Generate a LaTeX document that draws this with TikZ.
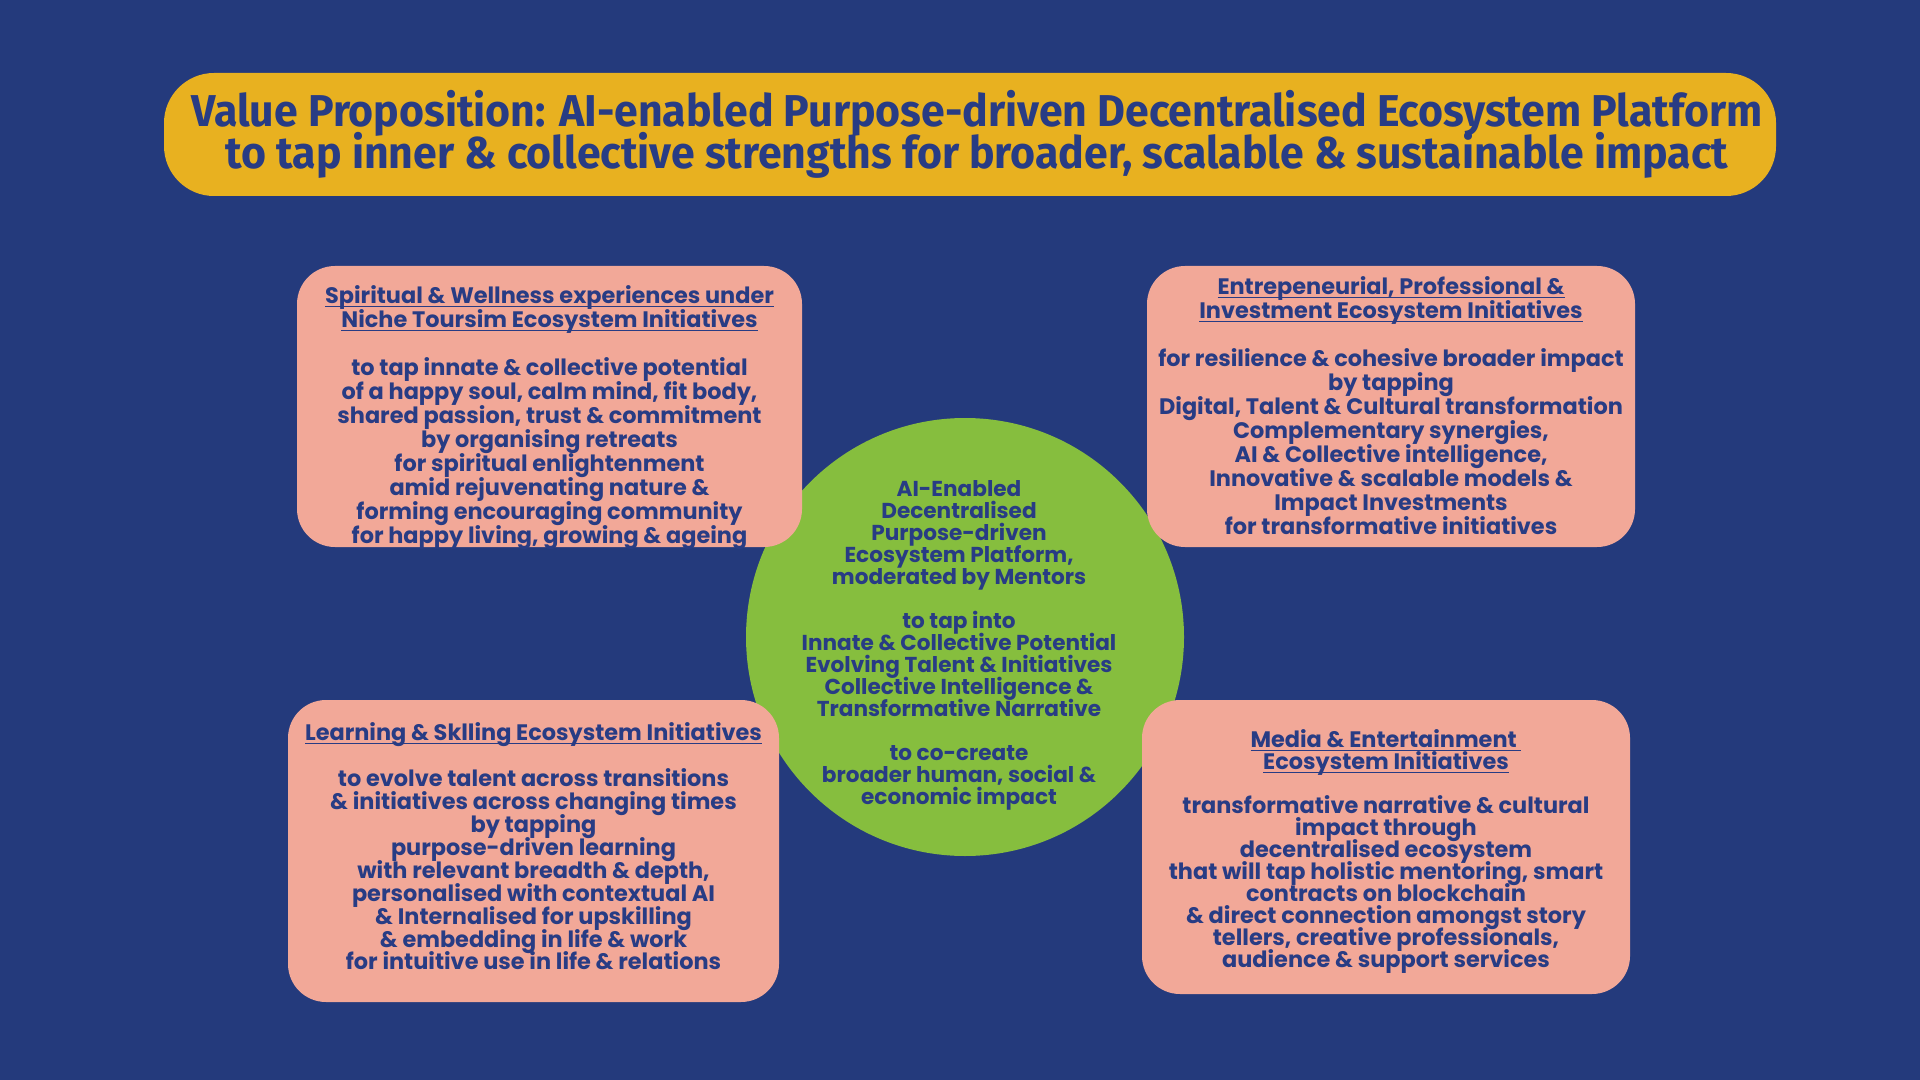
\documentclass[tikz,border=0pt]{standalone}
\usepackage{fontspec}
\newfontfamily\bodyfont{Poppins}
\newfontfamily\titlefont{Fira Sans}[FakeStretch=0.96]
\definecolor{bgblue}{RGB}{36,58,124}
\definecolor{txtblue}{RGB}{40,60,132}
\definecolor{salmon}{RGB}{242,168,152}
\definecolor{hubgreen}{RGB}{134,190,62}
\definecolor{gold}{RGB}{232,177,32}
\newcommand{\skipline}{\\[\baselineskip]}
\newcommand{\heading}[1]{\leavevmode\setbox0\hbox{#1}\rlap{\vrule height -0.8pt depth 1.65pt width \wd0}\box0}
\lineskiplimit=-\maxdimen

\begin{document}
\begin{tikzpicture}[x=0.5pt, y=-0.5pt,
    panel/.style={fill=salmon, rounded corners=19pt, inner sep=0pt},
    paneltext/.style={text=txtblue, align=center, inner sep=0pt,
        font=\bodyfont\bfseries\fontsize{11.2}{12}\selectfont},
    hub/.style={circle, fill=hubgreen, inner sep=0pt, minimum size=219pt}]
\useasboundingbox (0,0) rectangle (1920,1080);
\fill[bgblue] (0,0) rectangle (1920,1080);

% title banner
\node[fill=gold, rounded corners=25pt, minimum width=806pt, minimum height=61.5pt] (banner) at (970,134.5) {};
\node[text=txtblue, align=center, inner sep=0pt,
    font=\titlefont\bfseries\fontsize{22.3}{21}\selectfont] (title) at (977,134)
    {Value Proposition: AI-enabled Purpose-driven Decentralised Ecosystem Platform\\
     to tap inner \& collective strengths for broader, scalable \& sustainable impact};

% central platform circle
\node[hub] (hub) at (965,637) {};
\node[paneltext, font=\bodyfont\bfseries\fontsize{10.8}{11}\selectfont] (hubtext) at (959,645)
    {AI-Enabled\\ Decentralised\\ Purpose-driven\\ Ecosystem Platform,\\ moderated by Mentors\skipline
     to tap into\\ Innate \& Collective Potential\\ Evolving Talent \& Initiatives\\
     Collective Intelligence \&\\ Transformative Narrative\skipline
     to co-create\\ broader human, social \&\\ economic impact};

% four ecosystem panels
\node[panel, minimum width=252.5pt, minimum height=140.5pt] (spirit) at (549.5,406.5) {};
\node[panel, minimum width=244pt, minimum height=140.5pt] (invest) at (1391,406.5) {};
\node[panel, minimum width=245.5pt, minimum height=151pt] (learn) at (533.5,851) {};
\node[panel, minimum width=244pt, minimum height=147pt] (media) at (1386,847) {};

\node[paneltext, anchor=north, yshift=-10pt] (spirittext) at (spirit.north)
    {\heading{Spiritual \& Wellness experiences under}\\
     \heading{Niche Toursim Ecosystem Initiatives}\skipline
     to tap innate \& collective potential\\ of a happy soul, calm mind, fit body,\\
     shared passion, trust \& commitment\\ by organising retreats\\
     for spiritual enlightenment\\ amid rejuvenating nature \&\\
     forming encouraging community\\ for happy living, growing \& ageing};

\node[paneltext, anchor=north, yshift=-5.5pt] (investtext) at (invest.north)
    {\heading{Entrepeneurial, Professional \&}\\
     \heading{Investment Ecosystem Initiatives}\skipline
     for resilience \& cohesive broader impact\\ by tapping\\
     Digital, Talent \& Cultural transformation\\ Complementary synergies,\\
     AI \& Collective intelligence,\\ Innovative \& scalable models \&\\
     Impact Investments\\ for transformative initiatives};

\node[paneltext, anchor=north, yshift=-11.5pt,
    font=\bodyfont\bfseries\fontsize{11.2}{11.45}\selectfont] (learntext) at (learn.north)
    {\heading{Learning \& Sklling Ecosystem Initiatives}\skipline
     to evolve talent across transitions\\ \& initiatives across changing times\\
     by tapping\\ purpose-driven learning\\ with relevant breadth \& depth,\\
     personalised with contextual AI\\ \& Internalised for upskilling\\
     \& embedding in life \& work\\ for intuitive use in life \& relations};

\node[paneltext, anchor=north, yshift=-15pt,
    font=\bodyfont\bfseries\fontsize{11.2}{11}\selectfont] (mediatext) at (media.north)
    {\heading{Media \& Entertainment }\\
     \heading{Ecosystem Initiatives}\skipline
     transformative narrative \& cultural\\ impact through\\ decentralised ecosystem\\
     that will tap holistic mentoring, smart\\ contracts on blockchain\\
     \& direct connection amongst story\\ tellers, creative professionals,\\
     audience \& support services};
\end{tikzpicture}
\end{document}
